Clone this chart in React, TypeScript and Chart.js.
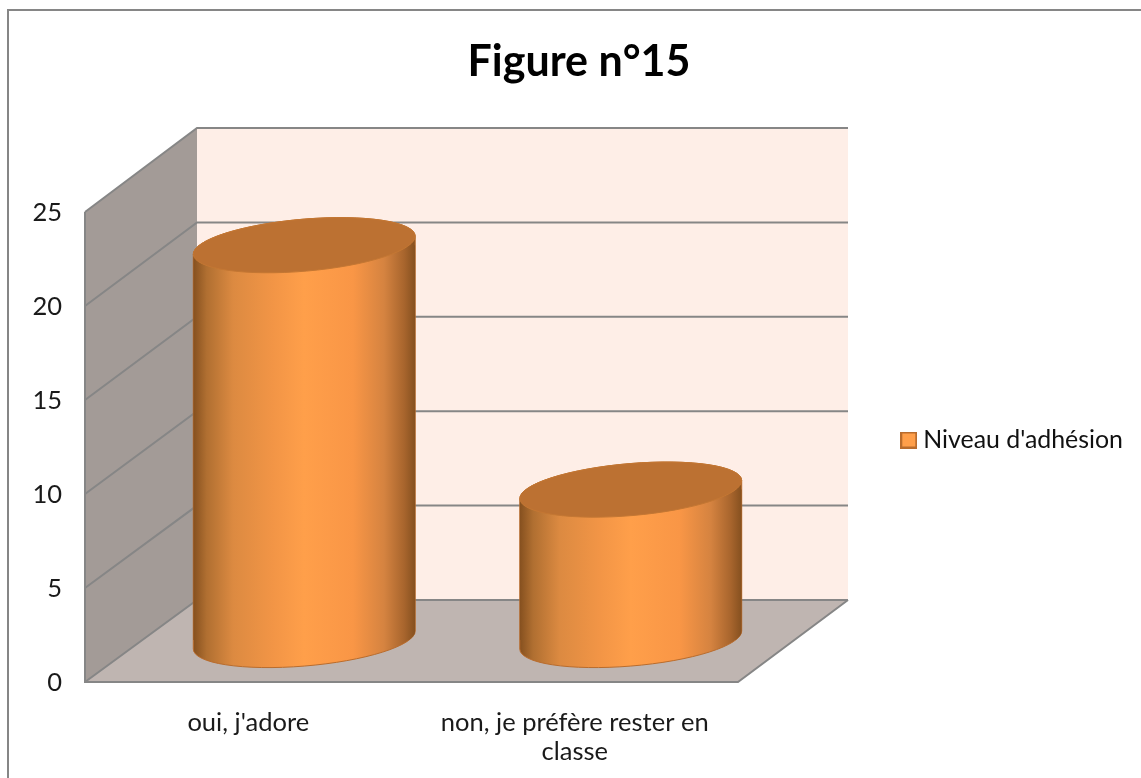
import React, { useEffect, useRef } from "react";
import { Chart, registerables } from "chart.js";

Chart.register(...registerables);

const categories = ["oui, j'adore", ["non, je préfère rester en", "classe"]];
const seriesName = "Niveau d'adhésion";
const seriesValues = [21, 8];
const titleText = "Figure n°15";
const yMax = 25;
const yStep = 5;

const FONT = "Lato, Carlito, Calibri, sans-serif";
const DEPTH_X = 112;
const DEPTH_Y = 82;
const BACK_STRETCH = 2;
const BACK_RIGHT = 848;
const FRONT_RIGHT = 738;
const LINE = "#868686";
const TILT = -4.9 * Math.PI / 180;
const ELLIPSE_RATIO = 26 / 111.4;
const PAD_RIGHT = 8;

const stops: [number, string][] = [
  [0, "#85501f"], [0.06, "#b06f31"], [0.18, "#dc8a41"], [0.36, "#f29546"],
  [0.5, "#ff9f4a"], [0.72, "#f99646"], [0.86, "#d58340"], [0.95, "#a8652d"], [1, "#85501f"],
];

function gradientFor(ctx: CanvasRenderingContext2D, left: number, right: number) {
  const g = ctx.createLinearGradient(left, 0, right, 0);
  stops.forEach(([t, c]) => g.addColorStop(t, c));
  return g;
}

function silhouette(x: number, top: number, base: number, halfWidth: number) {
  const a = halfWidth * 1.003;
  const b = a * ELLIPSE_RATIO;
  const t0 = Math.atan(-ELLIPSE_RATIO * Math.tan(TILT));
  const p = new Path2D();
  p.ellipse(x, top, a, b, TILT, t0 + Math.PI, t0 + 2 * Math.PI);
  p.ellipse(x, base, a, b, TILT, t0, t0 + Math.PI);
  p.closePath();
  return p;
}

const scene = {
  id: "scene",
  beforeDraw(chart: any) {
    const { ctx } = chart;
    const y = chart.scales.y;
    const x0 = chart.chartArea.left;
    const bx = x0 + DEPTH_X;
    const front = (v: number) => y.getPixelForValue(v);
    const back = (v: number) => y.getPixelForValue(v) - DEPTH_Y - BACK_STRETCH * v / yMax;
    ctx.save();
    ctx.fillStyle = "#ffffff";
    ctx.fillRect(0, 0, chart.width, chart.height);
    ctx.strokeStyle = LINE;
    ctx.lineWidth = 2;
    ctx.strokeRect(8, 10, chart.width + 20, chart.height + 20);

    ctx.fillStyle = "#feeee7";
    ctx.fillRect(bx, back(yMax), BACK_RIGHT - bx, back(0) - back(yMax));

    ctx.fillStyle = "#a39b97";
    ctx.beginPath();
    ctx.moveTo(x0, front(0));
    ctx.lineTo(x0, front(yMax));
    ctx.lineTo(bx, back(yMax));
    ctx.lineTo(bx, back(0));
    ctx.closePath();
    ctx.fill();

    ctx.fillStyle = "#bfb5b1";
    ctx.beginPath();
    ctx.moveTo(x0, front(0));
    ctx.lineTo(bx, back(0));
    ctx.lineTo(BACK_RIGHT, back(0));
    ctx.lineTo(FRONT_RIGHT, front(0));
    ctx.closePath();
    ctx.fill();

    ctx.strokeStyle = LINE;
    ctx.lineWidth = 2;
    y.ticks.forEach((t: any) => {
      ctx.beginPath();
      ctx.moveTo(x0, front(t.value));
      ctx.lineTo(bx, back(t.value));
      ctx.lineTo(BACK_RIGHT, back(t.value));
      ctx.stroke();
    });
    ctx.beginPath();
    ctx.moveTo(x0, front(yMax));
    ctx.lineTo(x0, front(0));
    ctx.lineTo(FRONT_RIGHT, front(0));
    ctx.lineTo(BACK_RIGHT, back(0));
    ctx.stroke();
    ctx.restore();
  },
  afterLayout(chart: any) {
    chart.legend.top += 51;
    chart.legend.bottom += 51;
  },
  beforeDatasetsDraw(chart: any) {
    const { ctx } = chart;
    ctx.save();
    ctx.translate(DEPTH_X / 2, -DEPTH_Y / 2 - 1);
    const bars = chart.getDatasetMeta(0).data;
    const union = new Path2D();
    bars.forEach((el: any) => {
      const half = el.width / 2;
      const p = silhouette(el.x, el.y, el.base, half);
      ctx.fillStyle = gradientFor(ctx, el.x - half, el.x + half);
      ctx.fill(p);
      ctx.strokeStyle = "#b96c2d";
      ctx.lineWidth = 1;
      ctx.stroke(p);
      union.addPath(p);
    });
    ctx.clip(union);
  },
  afterDatasetsDraw(chart: any) {
    const { ctx } = chart;
    ctx.restore();
    ctx.save();
    ctx.translate(DEPTH_X / 2, -DEPTH_Y / 2 - 1);
    chart.getDatasetMeta(0).data.forEach((el: any) => {
      const a = (el.width / 2) * 1.003;
      ctx.beginPath();
      ctx.ellipse(el.x, el.y, a, a * ELLIPSE_RATIO, TILT, 0, Math.PI * 2);
      ctx.fillStyle = "#bc7132";
      ctx.fill();
      ctx.strokeStyle = "#c47733";
      ctx.lineWidth = 1;
      ctx.stroke();
    });
    ctx.restore();
  },
};

export default function App() {
  const ref = useRef<HTMLCanvasElement | null>(null);
  useEffect(() => {
    const canvas = ref.current!;
    const swatch = document.createElement("canvas");
    swatch.width = 17;
    swatch.height = 17;
    const s = swatch.getContext("2d")!;
    s.fillStyle = "#ff9f4a";
    s.fillRect(0, 0, 17, 17);
    s.strokeStyle = "#b96c2d";
    s.lineWidth = 2;
    s.strokeRect(1, 1, 15, 15);

    const chart = new Chart(canvas, {
      type: "bar",
      data: {
        labels: categories as any,
        datasets: [
          {
            label: seriesName,
            data: seriesValues,
            barPercentage: 0.68,
            categoryPercentage: 1,
            borderWidth: 0,
            backgroundColor: (c: any) => {
              const sx = c.chart.scales.x;
              if (c.dataIndex === undefined || !sx) return "#ff9f4a";
              const xc = sx.getPixelForValue(c.dataIndex);
              const half = (sx.width / seriesValues.length) * 0.34;
              return gradientFor(c.chart.ctx, xc - half, xc + half);
            },
          },
        ],
      },
      options: {
        responsive: false,
        animation: false,
        layout: { padding: { left: 25, right: PAD_RIGHT, top: 0, bottom: 0 } },
        plugins: {
          tooltip: { enabled: false },
          title: {
            display: true,
            text: titleText,
            color: "#000000",
            font: { family: FONT, size: 43, weight: "bold", lineHeight: 1.2 },
            padding: { top: 36, bottom: 124.4 },
          },
          legend: {
            display: true,
            position: "right",
            maxWidth: 320,
            labels: {
              color: "#111111",
              font: { family: FONT, size: 24.9 },
              usePointStyle: true,
              pointStyleWidth: 4,
              padding: 10,
              generateLabels: (ch: any) =>
                ch.data.datasets.map((d: any, i: number) => ({
                  text: d.label,
                  datasetIndex: i,
                  pointStyle: swatch,
                  fontColor: "#111111",
                  fillStyle: "#ff9f4a",
                  strokeStyle: "#b96c2d",
                  lineWidth: 2,
                })),
            },
          },
        },
        scales: {
          x: {
            type: "category",
            offset: true,
            grid: { display: false },
            border: { display: false },
            ticks: {
              color: "#1a1a1a",
              font: { family: FONT, size: 25.5, lineHeight: 1.14 },
              padding: 18,
              maxRotation: 0,
              autoSkip: false,
            },
            afterFit: (s: any) => {
              s.height = 96;
            },
          },
          y: {
            type: "linear",
            min: 0,
            max: yMax,
            grid: { display: false },
            border: { display: false },
            ticks: {
              stepSize: yStep,
              color: "#1a1a1a",
              font: { family: FONT, size: 25.5 },
              padding: 15,
              labelOffset: 1,
            },
            afterFit: (s: any) => {
              s.width = 60;
            },
          },
          spacer: {
            type: "linear",
            position: "right",
            display: true,
            grid: { display: false },
            border: { display: false },
            ticks: { display: false },
            afterFit: (s: any) => {
              const lw = s.chart.legend ? s.chart.legend.width : 222;
              s.width = s.chart.width - FRONT_RIGHT - lw - PAD_RIGHT;
            },
          },
        },
      },
      plugins: [scene],
    } as any);
    return () => chart.destroy();
  }, []);
  return (
    <div style={{ position: "absolute", left: 0, top: 0 }}>
      <canvas ref={ref} width={1141} height={778} style={{ display: "block" }} />
    </div>
  );
}
